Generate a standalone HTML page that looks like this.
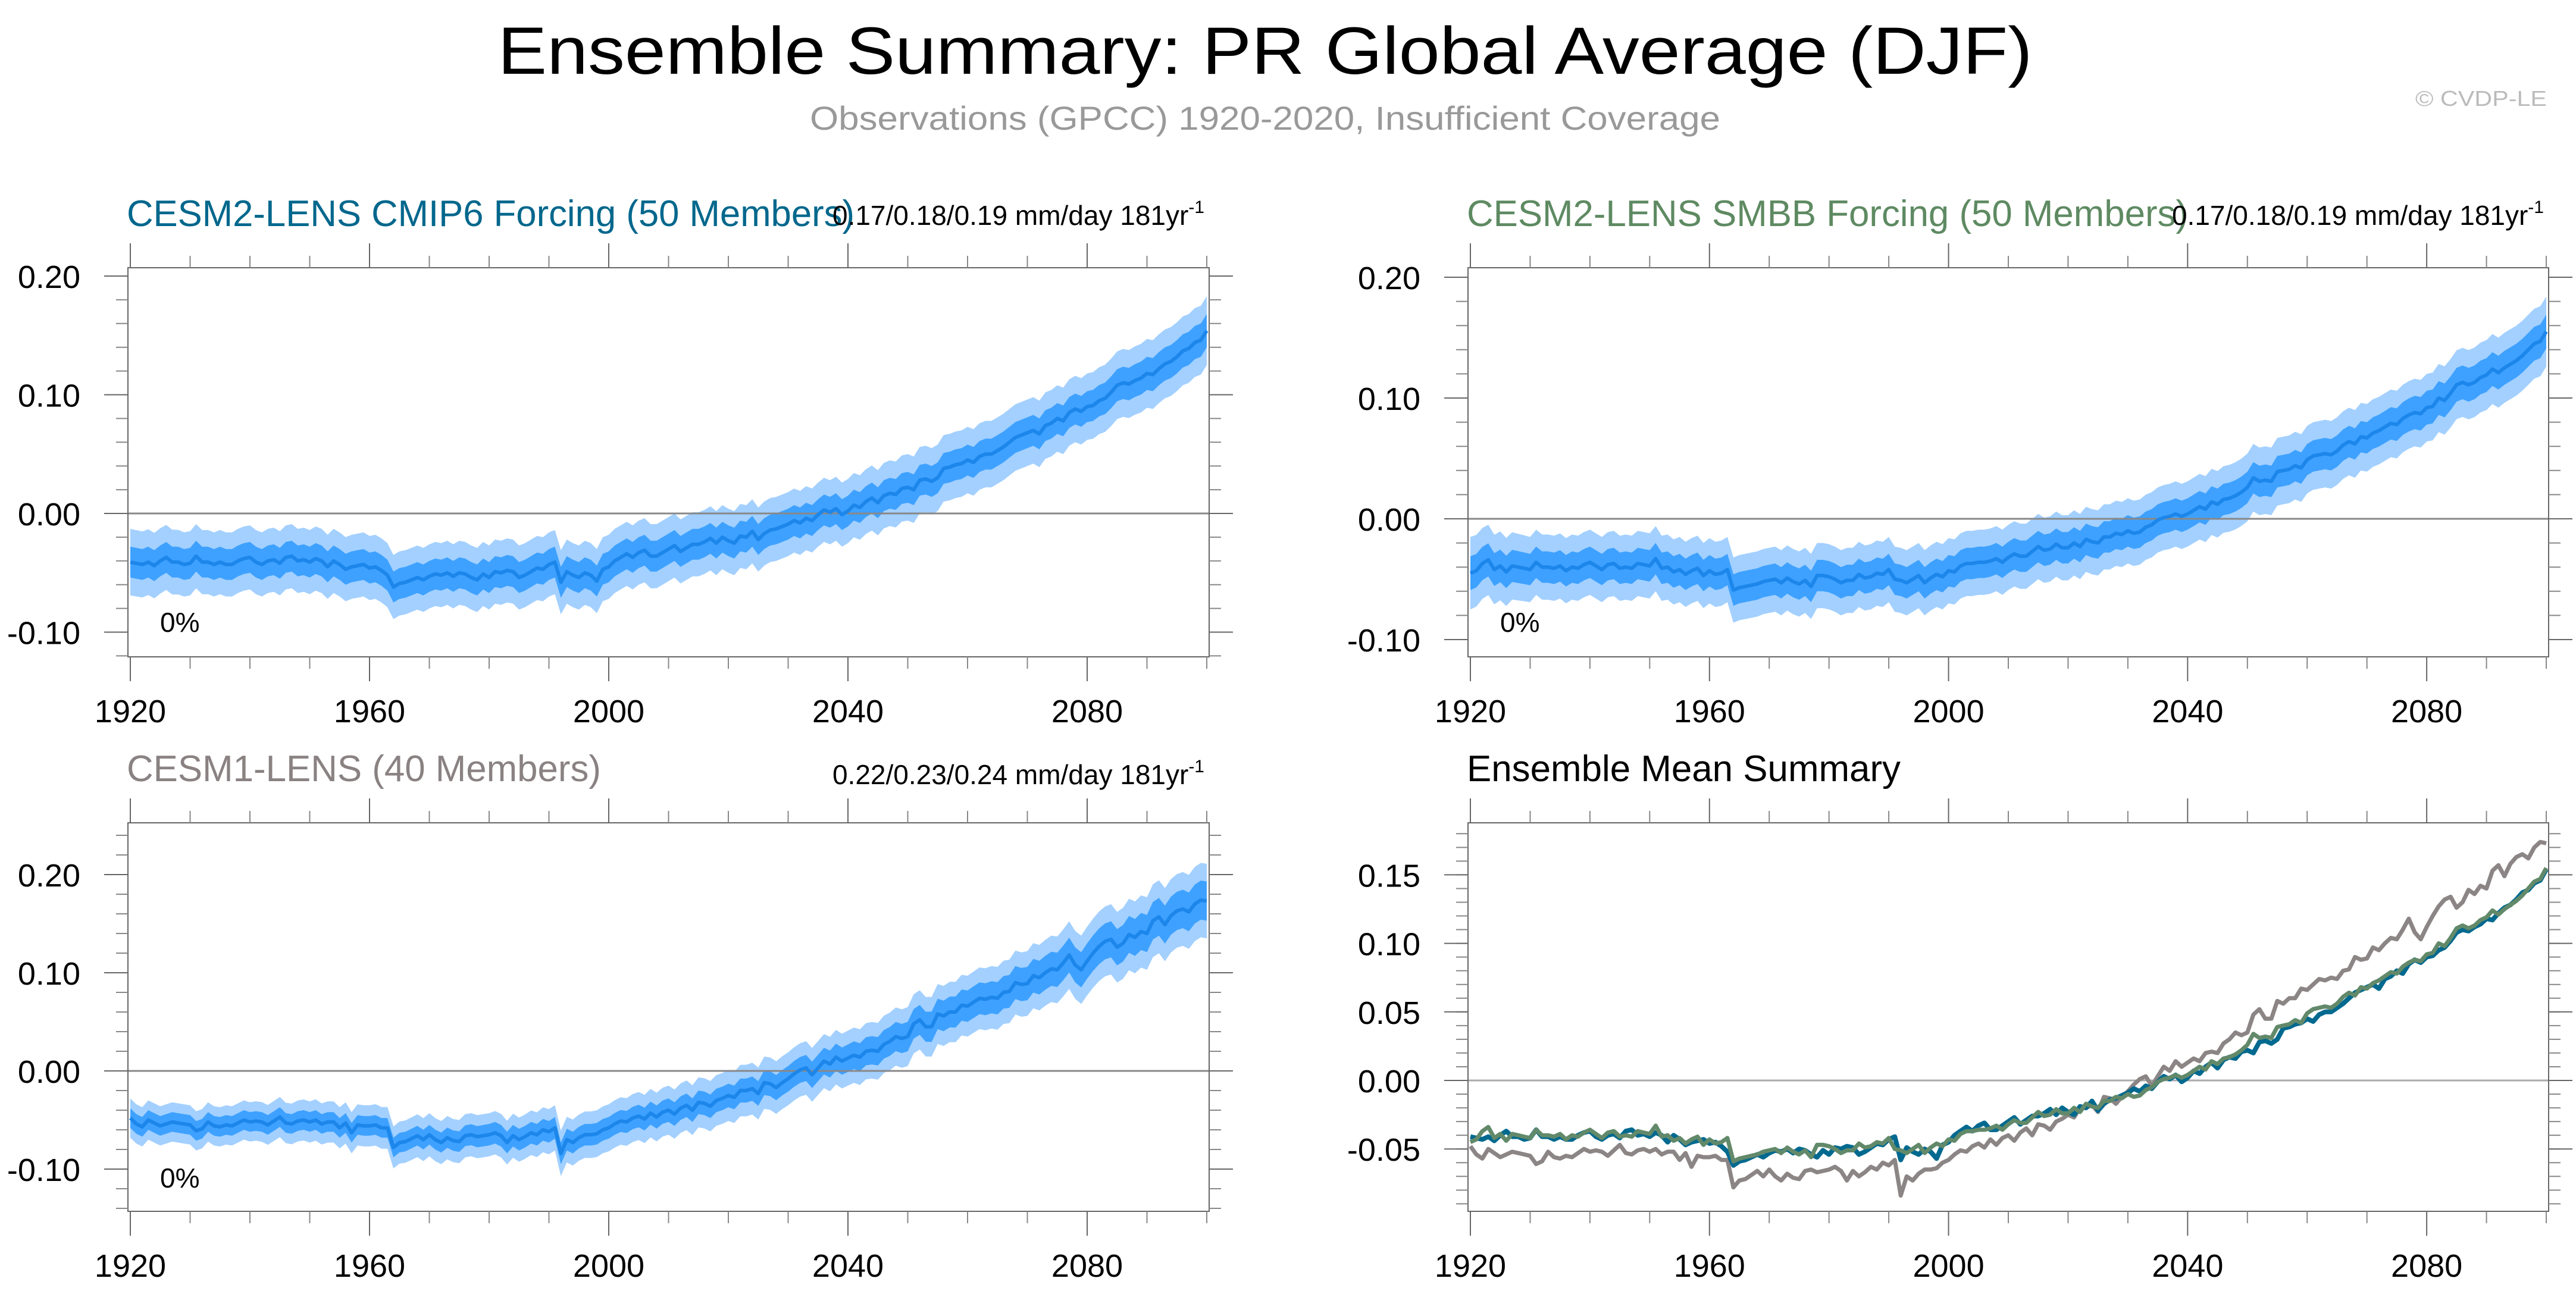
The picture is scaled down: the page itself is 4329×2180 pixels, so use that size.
<!DOCTYPE html>
<html><head><meta charset="utf-8"><style>
html,body{margin:0;padding:0;background:#fff;}
svg{display:block;font-family:"Liberation Sans",Arial,sans-serif;}
</style></head><body>
<svg id="c" width="4329" height="2180" viewBox="0 0 4329 2180" xmlns="http://www.w3.org/2000/svg">
<text x="2126" y="124" font-size="112" text-anchor="middle" textLength="2579" lengthAdjust="spacingAndGlyphs" fill="#000">Ensemble Summary: PR Global Average (DJF)</text>
<text x="2126" y="218" font-size="56" text-anchor="middle" textLength="1530" lengthAdjust="spacingAndGlyphs" fill="#999">Observations (GPCC) 1920-2020, Insufficient Coverage</text>
<text x="4280" y="178" font-size="36" text-anchor="end" textLength="221" lengthAdjust="spacingAndGlyphs" fill="#bbb">© CVDP-LE</text>
<g id="plots"></g>
</svg>
<script>
const years = [];
for (let y = 1920; y <= 2100; y++) years.push(y);

const cmip6Mean = [
-.041,-.042,-.043,-.041,-.044,-.040,-.037,-.041,-.041,-.043,
-.042,-.036,-.041,-.041,-.043,-.041,-.043,-.043,-.040,-.038,
-.037,-.041,-.043,-.040,-.039,-.042,-.037,-.036,-.040,-.039,
-.041,-.038,-.040,-.045,-.040,-.043,-.047,-.045,-.044,-.043,
-.046,-.045,-.048,-.052,-.062,-.059,-.058,-.056,-.054,-.056,
-.053,-.051,-.052,-.050,-.053,-.050,-.051,-.054,-.056,-.051,
-.054,-.049,-.050,-.048,-.049,-.054,-.052,-.049,-.046,-.047,
-.043,-.041,-.058,-.049,-.052,-.054,-.050,-.052,-.057,-.047,
-.045,-.040,-.037,-.034,-.037,-.033,-.031,-.036,-.036,-.033,
-.030,-.027,-.032,-.029,-.026,-.026,-.024,-.021,-.025,-.020,
-.023,-.025,-.019,-.020,-.015,-.022,-.017,-.014,-.013,-.011,
-.009,-.006,-.008,-.004,-.006,-.001,.003,.001,.004,-.001,
.002,.007,.005,.010,.013,.009,.015,.017,.016,.021,
.022,.020,.028,.029,.027,.030,.038,.039,.041,.042,
.045,.043,.048,.050,.050,.053,.056,.060,.064,.066,
.068,.070,.067,.074,.076,.080,.078,.085,.088,.086,
.090,.091,.095,.097,.102,.108,.110,.109,.112,.114,
.118,.117,.122,.126,.128,.132,.137,.139,.144,.146,
.154];

const smbbMean = [
-.045,-.043,-.037,-.034,-.042,-.039,-.044,-.039,-.040,-.041,
-.042,-.036,-.040,-.040,-.041,-.039,-.043,-.040,-.041,-.038,
-.036,-.039,-.042,-.038,-.037,-.041,-.040,-.041,-.037,-.038,
-.039,-.033,-.041,-.040,-.044,-.042,-.046,-.043,-.041,-.047,
-.043,-.046,-.045,-.042,-.059,-.057,-.056,-.055,-.054,-.052,
-.051,-.050,-.053,-.049,-.052,-.054,-.051,-.056,-.047,-.047,
-.048,-.050,-.053,-.051,-.051,-.046,-.049,-.048,-.045,-.046,
-.042,-.050,-.051,-.053,-.050,-.047,-.053,-.049,-.046,-.048,
-.043,-.044,-.039,-.037,-.037,-.036,-.036,-.035,-.033,-.036,
-.032,-.029,-.031,-.031,-.027,-.023,-.026,-.025,-.021,-.024,
-.024,-.020,-.023,-.017,-.019,-.020,-.015,-.015,-.012,-.013,
-.010,-.012,-.011,-.007,-.005,-.001,.001,.002,.004,.002,
.004,.007,.010,.008,.014,.012,.016,.017,.019,.022,
.026,.034,.031,.032,.031,.039,.040,.041,.044,.042,
.049,.052,.053,.054,.053,.056,.061,.064,.062,.068,
.067,.071,.073,.076,.079,.078,.083,.086,.088,.087,
.092,.093,.100,.098,.104,.111,.113,.111,.113,.117,
.119,.124,.121,.125,.128,.131,.135,.140,.145,.147,
.155];

const cesm1Mean = [
-.048,-.054,-.057,-.050,-.053,-.056,-.054,-.052,-.053,-.054,
-.055,-.061,-.059,-.052,-.056,-.057,-.055,-.056,-.053,-.050,
-.052,-.051,-.052,-.055,-.051,-.047,-.053,-.054,-.051,-.050,
-.052,-.050,-.054,-.052,-.052,-.058,-.053,-.063,-.055,-.056,
-.056,-.055,-.058,-.058,-.078,-.073,-.072,-.069,-.066,-.070,
-.065,-.070,-.073,-.068,-.071,-.072,-.066,-.065,-.067,-.066,
-.065,-.063,-.066,-.073,-.066,-.070,-.067,-.063,-.065,-.060,
-.062,-.058,-.084,-.070,-.073,-.068,-.065,-.065,-.064,-.060,
-.058,-.054,-.051,-.052,-.048,-.046,-.049,-.043,-.047,-.042,
-.040,-.044,-.038,-.035,-.040,-.032,-.033,-.036,-.030,-.028,
-.025,-.027,-.020,-.020,-.018,-.023,-.012,-.013,-.017,-.012,
-.008,-.003,.001,.003,-.004,.003,.010,.007,.014,.010,
.013,.016,.014,.020,.021,.020,.027,.030,.035,.033,
.035,.048,.052,.045,.045,.058,.056,.060,.060,.067,
.066,.070,.074,.073,.075,.074,.080,.081,.090,.088,
.089,.097,.095,.100,.104,.103,.110,.118,.108,.103,
.112,.120,.127,.132,.134,.126,.130,.139,.136,.142,
.140,.153,.157,.149,.158,.163,.165,.162,.170,.174,
.173];

const cmip6Inner = [.013,.013,.013,.013,.013,.013,.013,.013,.013,.013,.013,.013,.013,.013,.013,.013,.013,.014,.014];
const cmip6Outer = [.028,.027,.027,.027,.027,.027,.027,.027,.027,.027,.027,.027,.027,.028,.028,.028,.028,.029,.029];
const smbbInner = [.014,.013,.013,.013,.013,.013,.013,.013,.013,.013,.013,.013,.013,.013,.013,.013,.014,.014,.014];
const smbbOuter = [.030,.027,.027,.027,.027,.027,.027,.027,.027,.027,.027,.027,.027,.028,.028,.028,.028,.029,.029];
const cesm1Inner = [.010,.010,.010,.010,.010,.010,.011,.011,.011,.012,.012,.013,.014,.015,.016,.017,.018,.019,.020];
const cesm1Outer = [.020,.020,.020,.021,.021,.022,.022,.023,.024,.025,.026,.027,.028,.030,.031,.033,.035,.037,.038];

const xMajorTicks = [1920, 1960, 2000, 2040, 2080];
const xMinorTicks = [1930, 1940, 1950, 1970, 1980, 1990, 2010, 2020, 2030, 2050, 2060, 2070, 2090, 2100];
const yMajorA = [-0.10, 0.00, 0.10, 0.20];
const yMajorLabelsA = ["-0.10", "0.00", "0.10", "0.20"];
const yMajorD = [-0.05, 0.00, 0.05, 0.10, 0.15];
const yMajorLabelsD = ["-0.05", "0.00", "0.05", "0.10", "0.15"];

const NS = "http://www.w3.org/2000/svg";
const root = document.getElementById("plots");
function el(tag, attrs, parent) {
  const e = document.createElementNS(NS, tag);
  for (const k in attrs) e.setAttribute(k, attrs[k]);
  (parent || root).appendChild(e);
  return e;
}
function interp(arr, i) {
  const p = i / 10, k = Math.floor(p), f = p - k;
  if (k >= arr.length - 1) return arr[arr.length - 1];
  return arr[k] * (1 - f) + arr[k + 1] * f;
}

function panel(cfg) {
  const g = el("g", {});
  
  
  const [x0, y0, x1, y1] = cfg.box;
  const xs = yr => x0 + 4 + (yr - 1920) * (x1 - x0 - 8) / 180;
  const ys = v => cfg.zeroY - v * cfg.scale;
  if (cfg.bands) {
    cfg.bands.forEach(b => {
      let up = "", lo = "";
      years.forEach((yr, i) => {
        up += (i ? "L" : "M") + xs(yr).toFixed(1) + "," + ys(b.mean[i] + interp(b.outer, i)).toFixed(1);
      });
      for (let i = years.length - 1; i >= 0; i--) lo += "L" + xs(years[i]).toFixed(1) + "," + ys(b.mean[i] - interp(b.outer, i)).toFixed(1);
      const p1 = el("path", {d: up + lo + "Z", fill: "#a3d0ff"}, g);
      
      
      up = ""; lo = "";
      years.forEach((yr, i) => {
        up += (i ? "L" : "M") + xs(yr).toFixed(1) + "," + ys(b.mean[i] + interp(b.inner, i)).toFixed(1);
      });
      for (let i = years.length - 1; i >= 0; i--) lo += "L" + xs(years[i]).toFixed(1) + "," + ys(b.mean[i] - interp(b.inner, i)).toFixed(1);
      const p2 = el("path", {d: up + lo + "Z", fill: "#3ea1ff"}, g);
      
      
    });
  }
  const z = el("line", {x1: x0, x2: x1, y1: ys(0), y2: ys(0), stroke: cfg.bands ? "#888" : "#aaa", "stroke-width": 3}, g);
  
  
  cfg.lines.forEach(ln => {
    let d = "";
    years.forEach((yr, i) => { d += (i ? "L" : "M") + xs(yr).toFixed(1) + "," + ys(ln.data[i]).toFixed(1); });
    const p = el("path", {d: d, fill: "none", stroke: ln.color, "stroke-width": ln.w, "stroke-linejoin": "round"}, g);
    
    
  });
  const fr = el("rect", {x: x0, y: y0, width: x1 - x0, height: y1 - y0, fill: "none", stroke: "#666", "stroke-width": 2}, g);
  
  
  xMajorTicks.forEach(t => {
    const x = xs(t);
    el("line", {x1: x, x2: x, y1: y0, y2: y0 - 41, stroke: "#666", "stroke-width": 2}, g);
    el("line", {x1: x, x2: x, y1: y1, y2: y1 + 41, stroke: "#666", "stroke-width": 2}, g);
    const tx = el("text", {x: x, y: y1 + 110, "font-size": 54, "text-anchor": "middle", fill: "#000"}, g);
    tx.textContent = String(t);
    
    
  });
  xMinorTicks.forEach(t => {
    const x = xs(t);
    el("line", {x1: x, x2: x, y1: y0, y2: y0 - 20, stroke: "#888", "stroke-width": 2}, g);
    el("line", {x1: x, x2: x, y1: y1, y2: y1 + 20, stroke: "#888", "stroke-width": 2}, g);
  });
  for (let v = cfg.minorStart; v <= cfg.minorEnd + 1e-9; v += cfg.minorStep) {
    const y = ys(v);
    el("line", {x1: x0, x2: x0 - 20, y1: y, y2: y, stroke: "#888", "stroke-width": 2}, g);
    el("line", {x1: x1, x2: x1 + 20, y1: y, y2: y, stroke: "#888", "stroke-width": 2}, g);
  }
  cfg.majors.forEach((v, i) => {
    const y = ys(v);
    el("line", {x1: x0, x2: x0 - 40, y1: y, y2: y, stroke: "#666", "stroke-width": 2}, g);
    el("line", {x1: x1, x2: x1 + 40, y1: y, y2: y, stroke: "#666", "stroke-width": 2}, g);
    const tx = el("text", {x: x0 - 80, y: y + 20, "font-size": 54, "text-anchor": "end", fill: "#000"}, g);
    tx.textContent = cfg.majorLabels[i];
    
    
  });
  const t = el("text", {x: x0 - 2, y: cfg.titleY, "font-size": 62, fill: cfg.titleColor, textLength: cfg.titleW, lengthAdjust: "spacingAndGlyphs"}, g);
  t.textContent = cfg.title;
  
  
  if (cfg.trend) {
    const r = el("text", {x: x1 - 8, y: cfg.trendY, "font-size": 46, "text-anchor": "end", fill: "#000"}, g);
    r.textContent = cfg.trend;
    const sup = el("tspan", {"font-size": 30, dy: -20}, r);
    sup.textContent = "-1";
    
    
  }
  if (cfg.pct) {
    const p = el("text", {x: x0 + 54, y: cfg.pctY, "font-size": 46, fill: "#000"}, g);
    p.textContent = "0%";
    
    
  }
}

panel({name: "panel-cesm2-cmip6", box: [215, 450, 2032, 1104], zeroY: 863, scale: 1995,
  majors: yMajorA, majorLabels: yMajorLabelsA, minorStart: -0.12, minorEnd: 0.20, minorStep: 0.02,
  bands: [{mean: cmip6Mean, inner: cmip6Inner, outer: cmip6Outer}],
  lines: [{data: cmip6Mean, color: "#1c86ea", w: 6, name: "cmip6-ensemble-mean"}],
  title: "CESM2-LENS CMIP6 Forcing (50 Members)", titleColor: "#00678c", titleY: 380, titleW: 1223,
  trend: "0.17/0.18/0.19 mm/day 181yr", trendY: 378, pct: true, pctY: 1062});

panel({name: "panel-cesm2-smbb", box: [2467, 450, 4283, 1104], zeroY: 872, scale: 2030,
  majors: yMajorA, majorLabels: yMajorLabelsA, minorStart: -0.10, minorEnd: 0.20, minorStep: 0.02,
  bands: [{mean: smbbMean, inner: smbbInner, outer: smbbOuter}],
  lines: [{data: smbbMean, color: "#1c86ea", w: 6, name: "smbb-ensemble-mean"}],
  title: "CESM2-LENS SMBB Forcing (50 Members)", titleColor: "#5e8a62", titleY: 380, titleW: 1212,
  trend: "0.17/0.18/0.19 mm/day 181yr", trendY: 378, pct: true, pctY: 1062});

panel({name: "panel-cesm1", box: [215, 1383, 2032, 2036], zeroY: 1800, scale: 1650,
  majors: yMajorA, majorLabels: yMajorLabelsA, minorStart: -0.14, minorEnd: 0.24, minorStep: 0.02,
  bands: [{mean: cesm1Mean, inner: cesm1Inner, outer: cesm1Outer}],
  lines: [{data: cesm1Mean, color: "#1c86ea", w: 6, name: "cesm1-ensemble-mean"}],
  title: "CESM1-LENS (40 Members)", titleColor: "#8a8282", titleY: 1313, titleW: 797,
  trend: "0.22/0.23/0.24 mm/day 181yr", trendY: 1318, pct: true, pctY: 1996});

panel({name: "panel-ensemble-mean-summary", box: [2467, 1383, 4283, 2036], zeroY: 1816, scale: 2304,
  majors: yMajorD, majorLabels: yMajorLabelsD, minorStart: -0.09, minorEnd: 0.18, minorStep: 0.01,
  bands: null,
  lines: [
    {data: cesm1Mean, color: "#8c8585", w: 7, name: "cesm1-mean-line"},
    {data: cmip6Mean, color: "#00698f", w: 8, name: "cmip6-mean-line"},
    {data: smbbMean, color: "#62896a", w: 7, name: "smbb-mean-line"}],
  title: "Ensemble Mean Summary", titleColor: "#000", titleY: 1313, titleW: 729,
  trend: null, pct: false});
</script>
</body></html>
